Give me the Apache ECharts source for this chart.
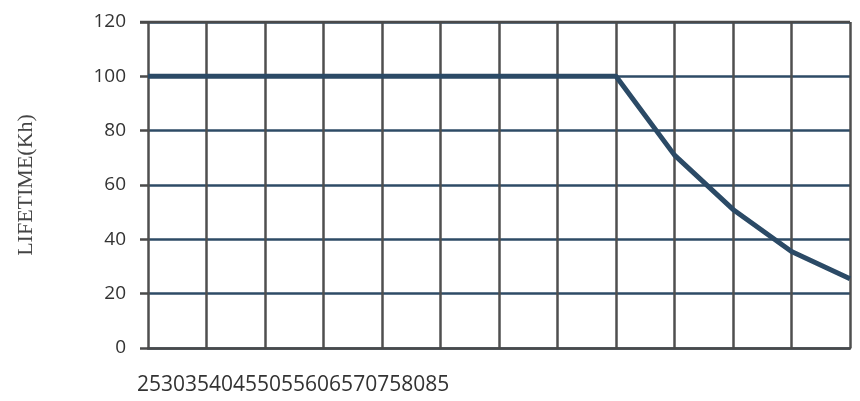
<!DOCTYPE html>
<html><head><meta charset="utf-8">
<script src="https://cdn.jsdelivr.net/npm/echarts@6/dist/echarts.min.js"></script>
<style>html,body{margin:0;padding:0;background:#fff}#c{width:860px;height:401px}</style>
</head><body><div id="c"></div>
<script>
const temps = [25, 30, 35, 40, 45, 50, 55, 60, 65, 70, 75, 80, 85];
const lifetime = [100, 100, 100, 100, 100, 100, 100, 100, 100, 71, 51, 35.5, 25.5];
const yTicks = [0, 20, 40, 60, 80, 100, 120];
const yName = 'LIFETIME(Kh)';

const chart = echarts.init(document.getElementById('c'));
chart.setOption({
  animation: false,
  grid: { left: 148, right: 10, top: 22, bottom: 53 },
  xAxis: {
    type: 'value', min: 25, max: 85, interval: 5,
    axisLine: { show: true, lineStyle: { color: '#4a4a4a', width: 2.5 } },
    axisTick: { show: false },
    axisLabel: { show: false },
    splitLine: { show: true, lineStyle: { color: '#4f4f4f', width: 2.5 } }
  },
  yAxis: {
    type: 'value', min: yTicks[0], max: yTicks[yTicks.length - 1], interval: 20,
    name: yName, nameLocation: 'middle', nameGap: 111, nameRotate: 90,
    nameTextStyle: { fontFamily: 'Liberation Serif', fontSize: 22, color: '#444' },
    axisLine: { show: false },
    axisTick: { show: true, length: 8, lineStyle: { color: '#4a4a4a', width: 2.5 } },
    axisLabel: { fontFamily: 'Open Sans', fontSize: 19, color: '#333', margin: 22 },
    splitLine: { show: true, lineStyle: { width: 2.5, color: '#2e4b66' } }
  },
  graphic: [
    { type: 'text', x: 137, y: 385,
      style: { text: temps.join(''), font: '21px "Open Sans"', fill: '#333', verticalAlign: 'middle' } },
    { type: 'line', shape: { x1: 140, y1: 22, x2: 850, y2: 22 },
      style: { stroke: '#4a4a4a', lineWidth: 2.5 }, z: 5 }
  ],
  series: [{
    type: 'line', data: temps.map((t, i) => [t, lifetime[i]]),
    smooth: false, symbol: 'none',
    lineStyle: { color: '#2b4a66', width: 5, join: 'round' }, z: 10
  }]
});
</script></body></html>
